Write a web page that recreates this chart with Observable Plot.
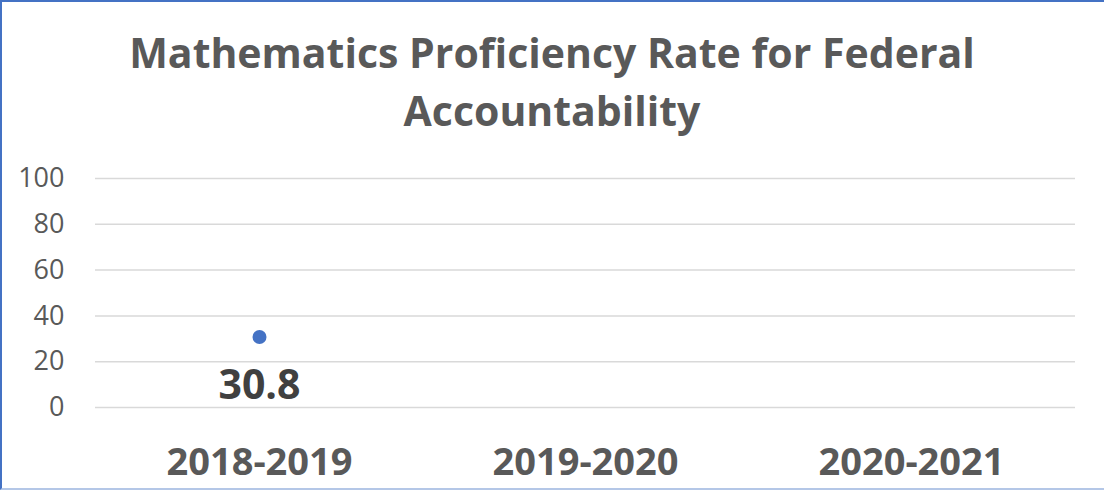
<!DOCTYPE html>
<html>
<head>
<meta charset="utf-8">
<script src="https://cdn.jsdelivr.net/npm/d3@7"></script>
<script src="https://cdn.jsdelivr.net/npm/@observablehq/plot@0.6"></script>
<style>
  html, body { margin: 0; padding: 0; background: #fff; }
  #frame {
    position: relative; width: 1104px; height: 490px; box-sizing: border-box;
    border-left: 2px solid #4472C4; border-top: 2px solid #4472C4; border-bottom: 2px solid #b4c7e7;
    overflow: hidden; font-family: "Open Sans", sans-serif;
  }
  #title {
    position: absolute; left: -2px; width: 1104px; top: 21px; text-align: center;
    font-size: 41px; font-weight: bold; color: #595959; line-height: 58px;
  }
  #chart { position: absolute; left: -2px; top: 146px; }
</style>
</head>
<body>
<div id="frame">
  <div id="title">Mathematics Proficiency Rate for Federal<br>Accountability</div>
  <div id="chart"></div>
</div>
<script>
const years = ["2018-2019", "2019-2020", "2020-2021"];
const rates = [30.8, null, null];
const yTicks = [0, 20, 40, 60, 80, 100];

const data = years.map((y, i) => ({year: y, rate: rates[i]})).filter(d => d.rate != null);

const plot = Plot.plot({
  width: 1104,
  height: 340,
  marginLeft: 95,
  marginRight: 29,
  marginTop: 30,
  marginBottom: 81,
  style: {fontFamily: "'Open Sans', sans-serif", background: "transparent"},
  x: {type: "band", domain: years, padding: 0, label: null},
  y: {domain: [0, 100], label: null},
  marks: [
    Plot.gridY(yTicks, {stroke: "#d9d9d9", strokeOpacity: 1, strokeWidth: 1.5}),
    Plot.axisY({ticks: yTicks, tickSize: 0, tickPadding: 31, fontSize: 27, fill: "#595959", label: null}),
    Plot.axisX({tickSize: 0, tickPadding: 41, fontSize: 38, fontWeight: "bold", fill: "#595959", label: null}),
    Plot.dot(data, {x: "year", y: "rate", r: 7, fill: "#4472C4", stroke: null}),
    Plot.text(data, {x: "year", y: "rate", text: d => d.rate.toFixed(1), dy: 49, fontSize: 41, fontWeight: "bold", fill: "#404040"})
  ]
});
document.getElementById("chart").appendChild(plot);
</script>
</body>
</html>
